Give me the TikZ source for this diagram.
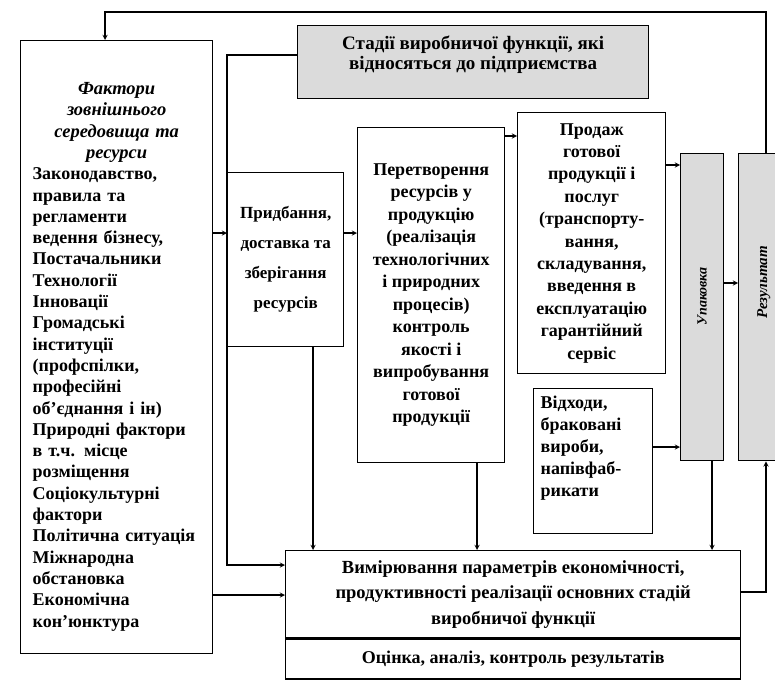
\documentclass[tikz,border=0pt]{standalone}
\usepackage{fontspec}
\setmainfont{Liberation Serif}
\usetikzlibrary{shapes,arrows,positioning,fit}

\newcommand{\titleline}[1]{\makebox[168pt]{#1}}

\begin{document}
\begin{tikzpicture}[x=1pt, y=-1pt, font=\bfseries\fontsize{18}{21.3}\selectfont]
    \tikzstyle{stage} = [rectangle, draw, line width=1.4pt, align=center, inner sep=0pt, anchor=north west]
    \tikzstyle{shaded} = [stage, fill=black!14]
    \tikzstyle{arrow} = [line width=1.3pt,->,>=stealth]

    \useasboundingbox (0,0) rectangle (775,680);
    \clip (0,0) rectangle (775,680);

    % Factors
    \node [stage, minimum width=192pt, minimum height=613pt, text width=168pt, align=left] (factors) at (20,40) {\titleline{\rule{0pt}{31pt}\textit{\fontsize{18.5}{21.3}\selectfont Фактори}}\\\titleline{\textit{\fontsize{18.5}{21.3}\selectfont зовнішнього}}\\\titleline{\textit{\fontsize{18.5}{21.3}\selectfont середовища та}}\\\titleline{\textit{\fontsize{18.5}{21.3}\selectfont ресурси}}\\Законодавство,\\правила та\\регламенти\\ведення бізнесу,\\Постачальники\\Технології\\Інновації\\Громадські\\інституції\\(профспілки,\\професійні\\об’єднання і ін)\\Природні фактори\\в т.ч. місце\\розміщення\\Соціокультурні\\фактори\\Політична ситуація\\Міжнародна\\обстановка\\Економічна\\кон’юнктура};

    % Header
    \node [shaded, minimum width=351pt, minimum height=73pt, font=\bfseries\fontsize{19}{20}\selectfont] (header) at (297,25) {Стадії виробничої функції, які\\відносяться до підприємства\rule[-19pt]{0pt}{19pt}};

    % Purchase
    \node [stage, minimum width=116pt, minimum height=174pt, font=\bfseries\fontsize{17}{30}\selectfont] (purchase) at (227,172) {Придбання,\\доставка та\\зберігання\\ресурсів};

    % Transform
    \node [stage, minimum width=147pt, minimum height=335pt, font=\bfseries\fontsize{18}{22.5}\selectfont] (transform) at (357,127) {Перетворення\\ресурсів у\\продукцію\\(реалізація\\технологічних\\і природних\\процесів)\\контроль\\якості і\\випробування\\готової\\продукції};

    % Sales
    \node [stage, minimum width=148pt, minimum height=261pt, font=\bfseries\fontsize{18}{22.4}\selectfont] (sales) at (517,112) {Продаж\\готової\\продукції і\\послуг\\(транспорту-\\вання,\\складування,\\введення в\\експлуатацію\\гарантійний\\сервіс};

    % Waste
    \node [stage, minimum width=119pt, minimum height=145pt, text width=105pt, align=left, font=\bfseries\fontsize{18}{22}\selectfont] (waste) at (533,388) {Відходи,\\браковані\\вироби,\\напівфаб-\\рикати\rule[-29pt]{0pt}{29pt}};

    % Packaging and results
    \node [shaded, minimum width=43pt, minimum height=307pt, font=\bfseries\itshape\fontsize{14}{16}\selectfont] (packaging) at (680,153) {\rotatebox{90}{\hspace{22pt}Упаковка}};
    \node [shaded, minimum width=50pt, minimum height=307pt, font=\bfseries\itshape\fontsize{15}{16}\selectfont] (results) at (738,153) {\rotatebox{90}{\hspace{50pt}Результат}};

    % Measurement
    \node [stage, minimum width=455pt, minimum height=87pt, font=\bfseries\fontsize{18.5}{25.5}\selectfont] (measure) at (285,550) {Вимірювання параметрів економічності,\\продуктивності реалізації основних стадій\\виробничої функції};
    \node [stage, below=0pt of measure, minimum width=455pt, minimum height=40pt] (evaluate) {Оцінка, аналіз, контроль результатів};

    % Arrows
    \draw [arrow] (factors.east |- 0,233) -- (purchase.west |- 0,233);
    \draw [arrow] (purchase.east |- 0,233) -- (transform.west |- 0,233);
    \draw [arrow] (transform.east |- 0,136) -- (sales.west |- 0,136);
    \draw [arrow] (sales.east |- 0,165) -- (packaging.west |- 0,165);
    \draw [arrow] (packaging.east |- 0,283) -- (results.west |- 0,283);
    \draw [arrow] (waste.east |- 0,447) -- (packaging.west |- 0,447);
    \draw [arrow] (header.west |- 0,55) -| (purchase.west |- 0,565) -- (measure.west |- 0,565);
    \draw [arrow] (factors.east |- 0,595) -- (measure.west |- 0,595);
    \draw [arrow] (purchase.south -| 313,0) -- (measure.north -| 313,0);
    \draw [arrow] (transform.south -| 477,0) -- (measure.north -| 477,0);
    \draw [arrow] (packaging.south -| 712,0) -- (measure.north -| 712,0);
    \draw [arrow] (measure.east |- 0,592) -| (results.south -| 766,0);
    \draw [arrow] (results.north -| 766,0) -- (766,12) -| (factors.north -| 105,0);
\end{tikzpicture}
\end{document}
